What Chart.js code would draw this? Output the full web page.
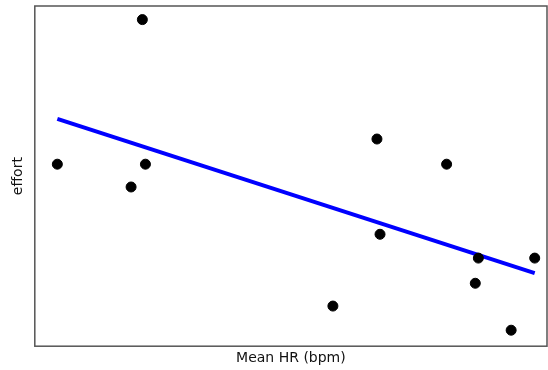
<!DOCTYPE html>
<html>
<head>
<meta charset="utf-8">
<script src="https://cdn.jsdelivr.net/npm/chart.js@4"></script>
<style>
  body { margin: 0; background: #fff; }
</style>
</head>
<body>
<canvas id="chart" width="548" height="370"></canvas>
<script>
// readings (no tick labels shown, so units are arbitrary)
const meanHR = [62.2, 70.5, 70.8, 69.4, 89.1, 93.4, 93.7, 100.2, 103.3, 103.0, 106.5, 108.8];
const effort = [5.35, 9.6, 5.35, 4.68, 1.18, 6.09, 3.29, 5.35, 2.59, 1.85, 0.47, 2.59];
const fitX = [62.2, 108.8];
const fitY = [6.68, 2.15];

const frame = {
  id: "frame",
  afterDraw(chart) {
    const a = chart.chartArea;
    const ctx = chart.ctx;
    ctx.save();
    ctx.strokeStyle = "#555";
    ctx.lineWidth = 1.5;
    ctx.strokeRect(a.left, a.top, a.right - a.left, a.bottom - a.top);
    ctx.restore();
  },
};

new Chart(document.getElementById("chart").getContext("2d"), {
  type: "scatter",
  data: {
    datasets: [
      {
        data: meanHR.map((x, i) => ({ x: x, y: effort[i] })),
        backgroundColor: "#000",
        borderColor: "#000",
        pointRadius: 5,
        pointHoverRadius: 5,
      },
      {
        type: "line",
        data: fitX.map((x, i) => ({ x: x, y: fitY[i] })),
        borderColor: "#0000ff",
        borderWidth: 4,
        pointRadius: 0,
        fill: false,
        tension: 0,
      },
    ],
  },
  plugins: [frame],
  options: {
    responsive: false,
    animation: false,
    layout: { autoPadding: false, padding: { top: 6, right: 1, left: 4, bottom: 3 } },
    plugins: { legend: { display: false }, tooltip: { enabled: false } },
    scales: {
      x: {
        type: "linear",
        min: 60,
        max: 110,
        grid: { display: false, drawTicks: false, tickLength: 0 },
        border: { display: false },
        ticks: { display: false, padding: 0 },
        title: {
          display: true,
          text: "Mean HR (bpm)",
          color: "#111",
          font: { family: "DejaVu Sans", size: 14 },
          padding: { top: 4, bottom: 0 },
        },
      },
      y: {
        min: 0,
        max: 10,
        grid: { display: false, drawTicks: false, tickLength: 0 },
        border: { display: false },
        ticks: { display: false, padding: 0 },
        title: {
          display: true,
          text: "effort",
          color: "#111",
          font: { family: "DejaVu Sans", size: 14 },
          padding: { top: 6, bottom: 8 },
        },
      },
    },
  },
});
</script>
</body>
</html>
